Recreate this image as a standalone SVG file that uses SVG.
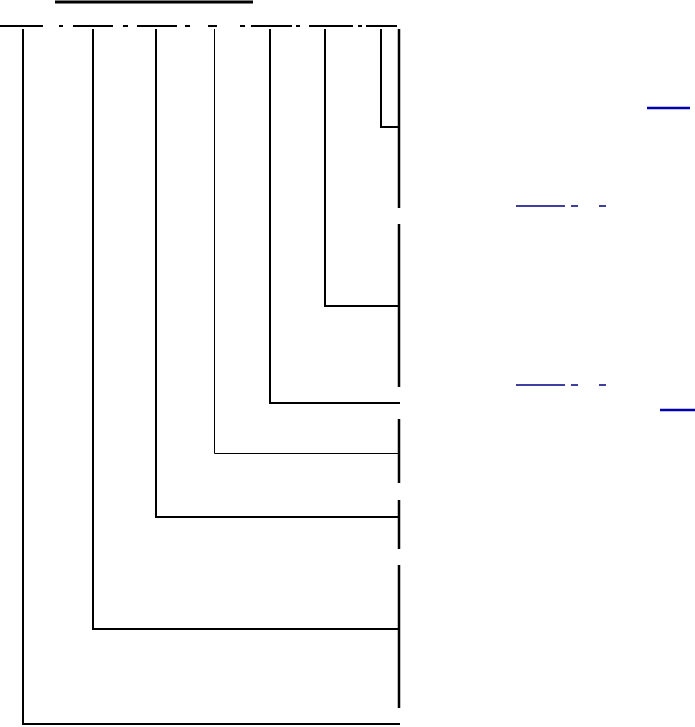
<svg xmlns="http://www.w3.org/2000/svg" width="695" height="727" viewBox="0 0 695 727">
<style>
.k{stroke:#000;fill:none;stroke-width:2}
.t{stroke:#000;fill:none;stroke-width:1}
.b{stroke:#0000b0;fill:none;stroke-width:2.5}
.n{stroke:#000080;fill:none;stroke-width:1.5}
</style>
<rect width="695" height="727" fill="#fff"/>
<g id="title-rule"><line class="k" x1="55" y1="2" x2="253" y2="2" style="stroke-width:3"/></g>
<g id="dash-rule">
<path class="k" d="M0 26H43M59 26H63M73 26H113M123 26H128M137 26H177M185 26H190M208 26H217M240 26H245M251 26H292M296 26H300M309 26H353M358 26H362M366 26H397"/>
</g>
<g id="connectors">
<path class="k" d="M23 29V724H400"/>
<path class="k" d="M93 29V629H400"/>
<path class="k" d="M156 29V517H400"/>
<path class="t" d="M214.5 29V453.5H400"/>
<path class="k" d="M270 29V403H400"/>
<path class="k" d="M325 29V306H400"/>
<path class="k" d="M381 29V127H400"/>
<path class="k" d="M399 29V208M399 224V387M399 419V483M399 500V549M399 565V708" style="stroke-width:2.5"/>
</g>
<g id="links">
<line class="b" x1="647" y1="108" x2="690" y2="108"/>
<path class="n" d="M516 206H565M571 206H578M599 206H606"/>
<path class="n" d="M516 385H565M571 385H578M599 385H606"/>
<line class="b" x1="660" y1="410" x2="695" y2="410"/>
</g>
</svg>
